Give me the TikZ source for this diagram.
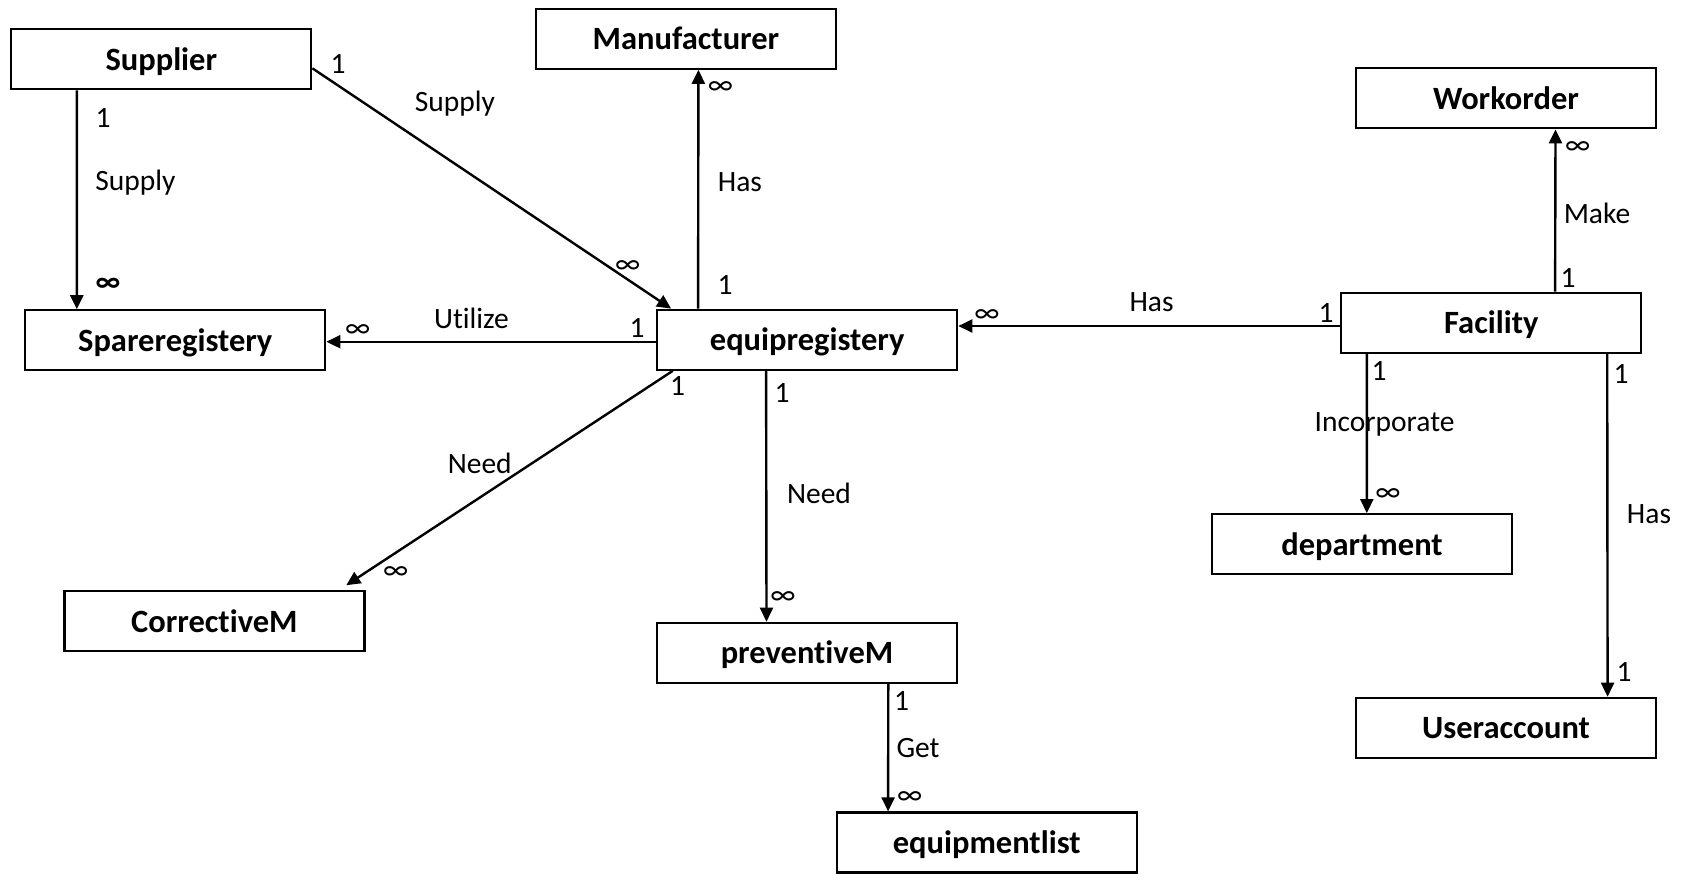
\documentclass[tikz,border=0pt]{standalone}
\usepackage{fontspec}
\setmainfont{Carlito}[Ligatures=NoCommon]
\usetikzlibrary{arrows.meta}
\begin{document}
\begin{tikzpicture}[x=1pt,y=-1pt,
  entity/.style={draw,line width=2.2pt,minimum width=300pt,minimum height=60pt,
    inner sep=0pt,text height=24pt,text depth=2pt,
    font=\bfseries\fontsize{32.5}{38}\selectfont},
  rel/.style={line width=2.4pt,-{Triangle[length=14pt,width=13pt]}},
  lbl/.style={inner sep=0pt,font=\fontsize{29.5}{34}\selectfont}]
\useasboundingbox (0,0) rectangle (1684,884);

% entities
\node[entity] (sup)  at (161.3,59.3)  {Supplier};
\node[entity] (man)  at (686,38.7)    {Manufacturer};
\node[entity] (wo)   at (1506,98.3)   {Workorder};
\node[entity] (spr)  at (175.3,340.3) {Spareregistery};
\node[entity] (eqr)  at (807.2,339.7) {equipregistery};
\node[entity] (fac)  at (1491.3,322.7){Facility};
\node[entity] (dep)  at (1362,544.2)  {department};
\node[entity] (cor)  at (214.4,621.3) {CorrectiveM};
\node[entity] (prev) at (807,652.8)   {preventiveM};
\node[entity] (usr)  at (1506,727.8)  {Useraccount};
\node[entity] (eql)  at (986.7,842.5) {equipmentlist};

% relationships
\draw[rel] ([xshift=66.7pt]sup.south west) -- ([xshift=52.6pt]spr.north west);
\draw[rel] ([yshift=-9pt]sup.east) -- ([xshift=15pt]eqr.north west);
\draw[rel] ([xshift=42pt]eqr.north west) -- ([xshift=163.5pt]man.south west);
\draw[rel] ([yshift=-2pt]eqr.west) -- ([yshift=-1.4pt]spr.east);
\draw[rel] ([yshift=-3.3pt]fac.west) -- ([yshift=13.7pt]eqr.east);
\draw[rel] ([xshift=214.9pt]fac.north west) -- ([xshift=200.6pt]wo.south west);
\draw[rel] ([xshift=26.6pt]fac.south west) -- ([xshift=155.9pt]dep.north west);
\draw[rel] ([xshift=267pt]fac.south west) -- ([xshift=252.7pt]usr.north west);
\draw[rel] ([xshift=16.7pt]eqr.south west) -- ([xshift=283pt,yshift=5pt]cor.north west);
\draw[rel] ([xshift=110pt]eqr.south west) -- ([xshift=110.6pt]prev.north west);
\draw[rel] ([xshift=232.4pt]prev.south west) -- ([xshift=52.5pt]eql.north west);

% cardinalities and relationship names
\node[lbl] (a1) at (103,118)   {1};
\node[lbl] (a2) at (135.5,183) {Supply};
\node[lbl] (a3) at (108,285)   {\bfseries ∞};

\node[lbl] (b1) at (338,64)    {1};
\node[lbl] (b2) at (455,104)   {Supply};
\node[lbl] (b3) at (627.6,267) {∞};

\node[lbl] (c1) at (720.5,88)  {∞};
\node[lbl] (c2) at (740,182)   {Has};
\node[lbl] (c3) at (725,285)   {1};

\node[lbl] (d1) at (357.7,331) {∞};
\node[lbl] (d2) at (471.5,318) {Utilize};
\node[lbl] (d3) at (637,328)   {1};

\node[lbl] (e1) at (987,316)   {∞};
\node[lbl] (e2) at (1151.6,301.7){Has};
\node[lbl] (e3) at (1326,312.7){1};

\node[lbl] (f1) at (1577.7,148){∞};
\node[lbl] (f2) at (1597,213)  {Make};
\node[lbl] (f3) at (1568,278)  {1};

\node[lbl] (g1) at (1379,371)  {1};
\node[lbl] (g2) at (1384.6,424.5){Incorporate};
\node[lbl] (g3) at (1388,495){∞};

\node[lbl] (h1) at (1621,374){1};
\node[lbl] (h2) at (1649,514){Has};
\node[lbl] (h3) at (1624,672){1};

\node[lbl] (i1) at (677.5,386) {1};
\node[lbl] (i2) at (479.7,463){Need};
\node[lbl] (i3) at (395.7,573){∞};

\node[lbl] (j1) at (782,392.5) {1};
\node[lbl] (j2) at (819,493)   {Need};
\node[lbl] (j3) at (783,598) {∞};

\node[lbl] (k1) at (901.6,701) {1};
\node[lbl] (k2) at (918,748) {Get};
\node[lbl] (k3) at (909.6,798){∞};
\end{tikzpicture}
\end{document}
